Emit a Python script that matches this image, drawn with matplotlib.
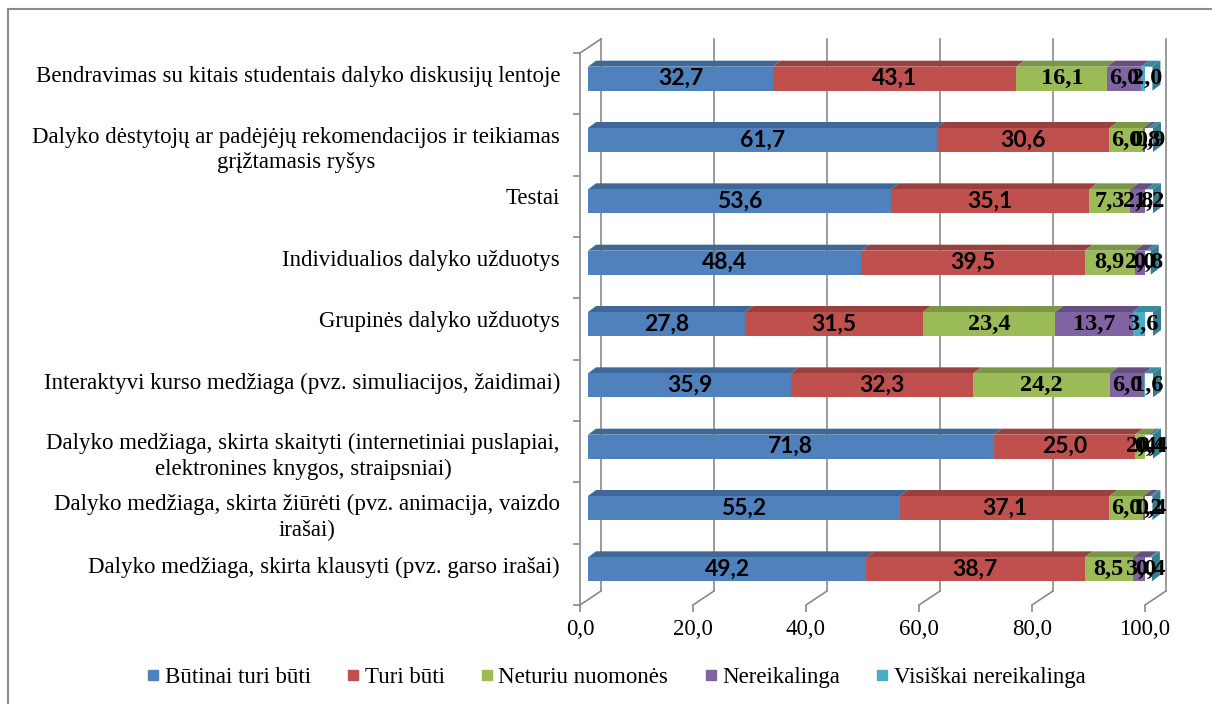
import numpy as np
import matplotlib
matplotlib.use("Agg")
import matplotlib.pyplot as plt
from matplotlib.patches import Polygon, Rectangle
from matplotlib.lines import Line2D

# kategorijos (nuo apacios i virsu)
kategorijos = [
    "Dalyko medžiaga, skirta klausyti (pvz. garso irašai)",
    "Dalyko medžiaga, skirta žiūrėti (pvz. animacija, vaizdo\nirašai)",
    "Dalyko medžiaga, skirta skaityti (internetiniai puslapiai,\nelektronines knygos, straipsniai)",
    "Interaktyvi kurso medžiaga (pvz. simuliacijos, žaidimai)",
    "Grupinės dalyko užduotys",
    "Individualios dalyko užduotys",
    "Testai",
    "Dalyko dėstytojų ar padėjėjų rekomendacijos ir teikiamas\ngrįžtamasis ryšys",
    "Bendravimas su kitais studentais dalyko diskusijų lentoje",
]

butinai = [49.2, 55.2, 71.8, 35.9, 27.8, 48.4, 53.6, 61.7, 32.7]
turi = [38.7, 37.1, 25.0, 32.3, 31.5, 39.5, 35.1, 30.6, 43.1]
neturiu = [8.5, 6.0, 2.4, 24.2, 23.4, 8.9, 7.3, 6.0, 16.1]
nereikalinga = [3.0, 1.2, 0.4, 6.0, 13.7, 2.0, 2.8, 0.8, 6.0]
visiskai = [0.4, 0.4, 0.4, 1.6, 3.6, 0.8, 1.2, 0.9, 2.0]

serijos = ["Būtinai turi būti", "Turi būti", "Neturiu nuomonės",
           "Nereikalinga", "Visiškai nereikalinga"]
reiksmes = [butinai, turi, neturiu, nereikalinga, visiskai]
spalvos = ["#4F81BD", "#C0504D", "#9BBB59", "#8064A2", "#4BACC6"]

xticks = [0, 20, 40, 60, 80, 100]

SERIF = "Liberation Serif"
FS = 16.5


def tamsinti(c, k):
    r, g, b = matplotlib.colors.to_rgb(c)
    return (r * k, g * k, b * k)


fig = plt.figure(figsize=(12.12, 7.04), dpi=100)
# apvadas (matosi tik kaire ir virsus)
fig.patches.append(Rectangle((8 / 1212, -0.05), 1.2, 1.05 - 9 / 704,
                             transform=fig.transFigure, fill=False,
                             edgecolor="#8c8c8c", linewidth=1.5))

ax = fig.add_axes([580 / 1212, 99 / 704, 565 / 1212, 552 / 704])
ax.set_xlim(0, 100)
ax.set_ylim(0, 9)

# 3D poslinkiai (duomenu vienetais)
px_x = 565 / 100.0
px_y = 552 / 9.0
sienos_dx, sienos_dy = 21 / px_x, 14 / px_y
bar_dx, bar_dy = 8 / px_x, 5 / px_y
virsus_dx, virsus_dy = 8 / px_x, 6 / px_y
bar_h = 24 / px_y

tinklas = "#8a8a8a"
# galine siena ir grindys
for x in xticks:
    ax.plot([x + sienos_dx, x + sienos_dx], [sienos_dy, 9 + sienos_dy],
            color=tinklas, lw=1.2, clip_on=False, zorder=0)
    ax.plot([x, x + sienos_dx], [0, sienos_dy], color=tinklas, lw=1.2,
            clip_on=False, zorder=0)
ax.plot([0, sienos_dx], [9, 9 + sienos_dy], color=tinklas, lw=1.2,
        clip_on=False, zorder=0)

n = len(kategorijos)
kaire = np.zeros(n)
for s, (vals, c) in enumerate(zip(reiksmes, spalvos)):
    vals = np.array(vals)
    y = np.arange(n) + 0.5 + bar_dy
    ax.barh(y, vals, left=kaire + bar_dx, height=bar_h, color=c,
            linewidth=0, zorder=3)
    for i in range(n):
        l = kaire[i] + bar_dx
        r = l + vals[i]
        yt = y[i] + bar_h / 2
        yb = y[i] - bar_h / 2
        ax.add_patch(Polygon([(l, yt), (r, yt), (r + virsus_dx, yt + virsus_dy),
                              (l + virsus_dx, yt + virsus_dy)], closed=True,
                             facecolor=tamsinti(c, 0.8), edgecolor="none",
                             zorder=2, clip_on=False))
        if s == len(reiksmes) - 1:
            ax.add_patch(Polygon([(r, yb), (r, yt), (r + virsus_dx, yt + virsus_dy),
                                  (r + virsus_dx, yb + virsus_dy)], closed=True,
                                 facecolor=tamsinti(c, 0.72), edgecolor="none",
                                 zorder=4, clip_on=False))
    for i in range(n):
        txt = f"{vals[i]:.1f}".replace(".", ",")
        if s < 2:
            ax.text(kaire[i] + bar_dx + vals[i] / 2, y[i], txt, ha="center",
                    va="center", fontsize=16.5, fontweight="bold", family="Lato",
                    zorder=6, clip_on=False)
        else:
            ax.text(kaire[i] + bar_dx + vals[i] / 2, y[i], txt, ha="center",
                    va="center", fontsize=17.5, fontweight="bold",
                    family=SERIF, zorder=6, clip_on=False)
    kaire = kaire + vals

# kategoriju uzrasai
for i, k in enumerate(kategorijos):
    dy = -0.08 if "\n" in k else 0.12
    ax.text(-20 / px_x, i + 0.5 + dy, k, ha="right", va="center",
            multialignment="center", fontsize=FS, family=SERIF,
            linespacing=1.3)

for sp in ["top", "right", "bottom"]:
    ax.spines[sp].set_visible(False)
ax.spines["left"].set_color(tinklas)
ax.spines["left"].set_linewidth(1.2)
ax.set_yticks(range(n + 1))
ax.set_yticklabels([])
ax.tick_params(axis="y", length=5, color=tinklas, width=1.2)
ax.set_xticks(xticks)
ax.set_xticklabels([f"{v:.1f}".replace(".", ",") for v in xticks],
                   family=SERIF, fontsize=FS)
ax.tick_params(axis="x", length=5, color=tinklas, width=1.2, pad=5)

rankenos = [Line2D([], [], marker="s", linestyle="none", markersize=7.2,
                   markerfacecolor=c, markeredgecolor=c) for c in spalvos]
fig.legend(rankenos, serijos, loc="center", bbox_to_anchor=(0.5087, 0.037),
           ncol=5, frameon=False, handlelength=0.5, handletextpad=0.25,
           columnspacing=1.6, prop={"family": SERIF, "size": FS})

fig.savefig("out.png", dpi=100)
